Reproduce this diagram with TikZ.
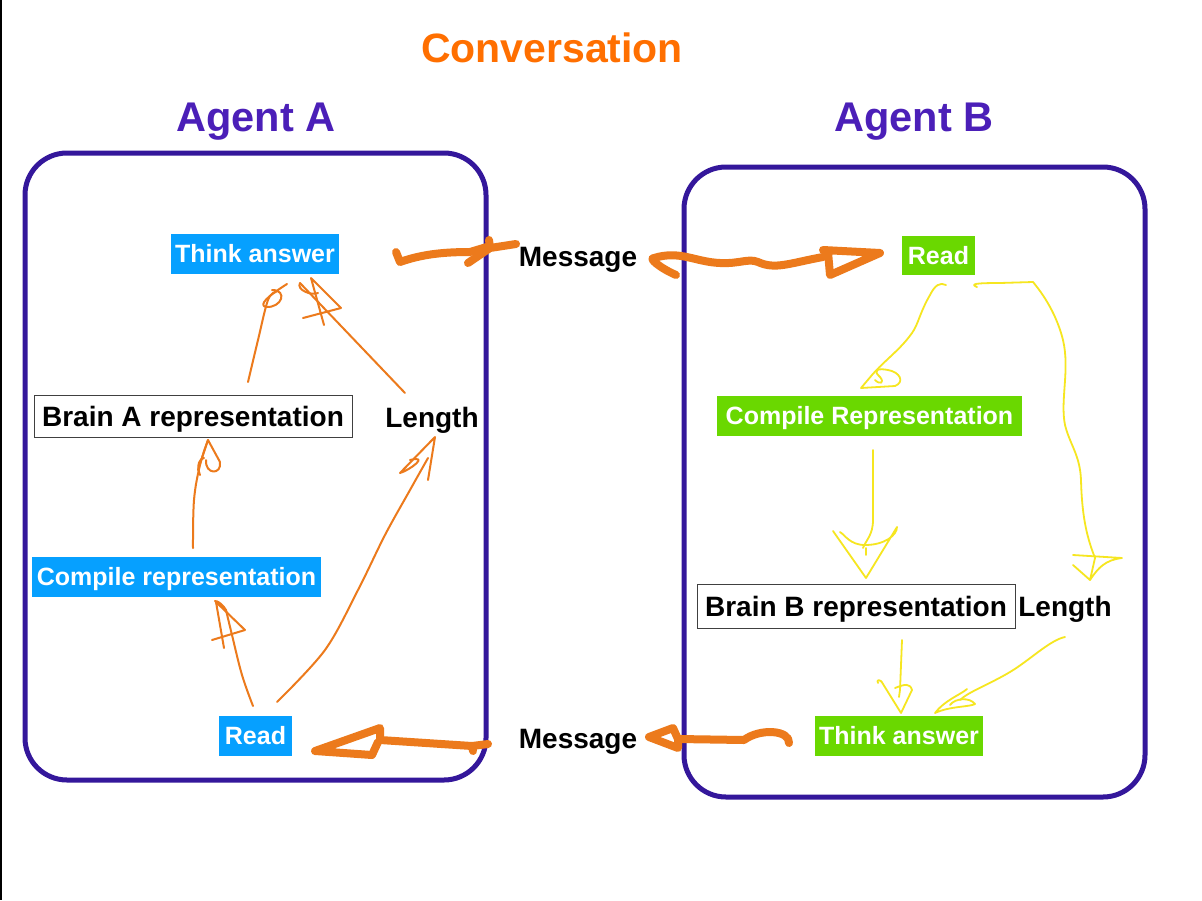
\documentclass[tikz,border=0pt]{standalone}
\usepackage{fontspec}
\setmainfont{Liberation Sans}
\begin{document}
\begin{tikzpicture}[x=1pt,y=-1pt,
  frame/.style={draw=boxpurple,line width=5pt,rounded corners=42pt},
  title/.style={font=\fontsize{41.5}{46}\selectfont\bfseries,text=titlepurple,text height=29.7pt,text depth=0pt,inner sep=0pt},
  wcap/.style={text height=17.9pt,text depth=0pt},
  bcap/.style={text height=20pt,text depth=0pt},
  bluebox/.style={wcap,fill=nodeblue,text=white,inner sep=0pt,font=\fontsize{25}{28}\selectfont\bfseries},
  greenbox/.style={wcap,fill=nodegreen,text=white,inner sep=0pt,font=\fontsize{25}{28}\selectfont\bfseries},
  brainbox/.style={bcap,draw=black!75,line width=1pt,fill=white,inner sep=0pt,font=\fontsize{28}{31}\selectfont\bfseries},
  plain/.style={bcap,inner sep=0pt,font=\fontsize{28}{31}\selectfont\bfseries},
  othin/.style={draw=arrorange,line width=2pt,line cap=round,line join=round},
  othick/.style={draw=arrorange,line width=8pt,line cap=round,line join=round},
  ythin/.style={draw=arryellow,line width=1.8pt,line cap=round,line join=round}]
\definecolor{boxpurple}{HTML}{34179B}
\definecolor{titlepurple}{HTML}{4B1FB8}
\definecolor{convorange}{HTML}{FF6F00}
\definecolor{nodeblue}{HTML}{06A0FF}
\definecolor{nodegreen}{HTML}{6AD800}
\definecolor{arrorange}{HTML}{EC7A1C}
\definecolor{arryellow}{HTML}{F6E620}
\useasboundingbox (0,0) rectangle (1202,900);
\fill[white] (0,0) rectangle (1202,900);
\fill[black] (0,0) rectangle (2,900);

% titles
\node[font=\fontsize{41}{46}\selectfont\bfseries,text=convorange,text height=29.4pt,text depth=0pt,inner sep=0pt] (conv) at (552,48) {Conversation};
\node[title] (titleA) at (256,117) {Agent A};
\node[title] (titleB) at (914,117) {Agent B};

% agent frames
\draw[frame] (25,153) rectangle (486,780);
\draw[frame] (684,167) rectangle (1145,797);

% agent A nodes
\node[bluebox,minimum width=168pt,minimum height=40pt] (thinkA) at (255,254) {Think answer};
\node[brainbox,minimum width=318pt,minimum height=42pt] (brainA) at (193,416) {Brain A representation};
\node[plain] (lengthA) at (432,417) {Length};
\node[bluebox,minimum width=289pt,minimum height=40pt] (compA) at (176.5,577) {Compile representation};
\node[bluebox,minimum width=73pt,minimum height=40pt] (readA) at (255.5,736) {Read};

% messages
\node[plain] (msgTop) at (578,256) {Message};
\node[plain] (msgBot) at (578,738) {Message};

% agent B nodes
\node[greenbox,minimum width=73pt,minimum height=39pt] (readB) at (938.5,255.5) {Read};
\node[greenbox,minimum width=305pt,minimum height=40pt] (compB) at (869.5,416) {Compile Representation};
\node[brainbox,minimum width=318pt,minimum height=44pt] (brainB) at (856,606) {Brain B representation};
\node[plain] (lengthB) at (1065,606) {Length};
\node[greenbox,minimum width=168pt,minimum height=40pt] (thinkB) at (899,736) {Think answer};

% ---------- Agent A orange arrows ----------
% Brain A -> Think A
\coordinate (a1s) at (248,382);
\coordinate (a1t) at (287,284);
\draw[othin] plot[smooth,tension=0.6] coordinates {(a1s) (258,340) (268,300) (276,292)};
\draw[othin] (a1t) .. controls (268,296) and (258,305) .. (266,307) .. controls (282,308) and (288,290) .. (272,290);
% Length A -> Think A
\coordinate (a2s) at (405,393);
\coordinate (a2t) at (300,283);
\draw[othin] (a2s) -- (a2t);
\draw[othin] (a2t) .. controls (296,290) and (312,296) .. (318,293);
\draw[othin] (303,318) -- (341,308) -- (311,278) (311,278) -- (324,325);
% Compile A -> Brain A
\coordinate (a3s) at (193,548);
\coordinate (a3t) at (208,440);
\draw[othin] plot[smooth,tension=0.6] coordinates {(a3s) (194,500) (200,465) (a3t)};
\draw[othin] (198,470) -- (a3t) -- (220,462) .. controls (222,475) and (205,475) .. (206,460);
\draw[othin] (200,475) .. controls (196,465) and (200,458) .. (204,458);
% Read A -> Compile A
\coordinate (a4s) at (253,706);
\coordinate (a4t) at (216,602);
\draw[othin] plot[smooth,tension=0.6] coordinates {(a4s) (242,675) (232,635) (226,610)};
\draw[othin] (226,610) .. controls (220,600) and (212,600) .. (a4t) -- (224,648) (212,640) -- (245,630) -- (a4t);
% Read A -> Length A
\coordinate (a5s) at (277,702);
\coordinate (a5t) at (435,437);
\draw[othin] plot[smooth,tension=0.55] coordinates {(a5s) (325,650) (358,590) (385,535) (410,490) (428,458)};
\draw[othin] (a5t) -- (400,473) .. controls (410,470) and (430,455) .. (410,460) (a5t) -- (428,480);

% ---------- Messages (thick orange) ----------
% Think A -> Message (top)
\coordinate (m1s) at (396,252);
\coordinate (m1t) at (516,244);
\draw[othick] (m1s) -- (400,262) .. controls (420,255) and (440,252) .. (470,252) -- (490,246);
\draw[othick] (m1t) -- (490,248) -- (468,263) (490,248) -- (489,240);
% Message (top) -> Read B
\coordinate (m2s) at (654,258);
\coordinate (m2t) at (880,253);
\draw[othick] (676,275) .. controls (660,268) and (648,258) .. (m2s) .. controls (680,250) and (695,262) .. (720,263) .. controls (740,264) and (748,258) .. (758,262) .. controls (775,270) and (790,263) .. (823,257);
\draw[othick] (823,250) -- (m2t) -- (830,275) -- (828,252);
% Message (bottom) -> Read A
\coordinate (m3s) at (488,744);
\coordinate (m3t) at (315,751);
\draw[othick] (m3s) -- (472,746) -- (473,751) (472,746) -- (380,740);
\draw[othick] (380,740) -- (380,728) -- (m3t) -- (372,755) -- (378,742);
% Think B -> Message (bottom)
\coordinate (m4s) at (789,743);
\coordinate (m4t) at (649,737);
\draw[othick] (m4s) .. controls (790,730) and (760,728) .. (744,740) -- (678,739);
\draw[othick] (678,739) -- (673,728) -- (m4t) -- (678,748) -- (678,739);

% ---------- Agent B yellow arrows ----------
% Read B -> Compile B
\coordinate (b1s) at (946,285);
\coordinate (b1t) at (861,388);
\draw[ythin] (946,285) .. controls (940,282) and (935,285) .. (930,295) .. controls (920,312) and (918,325) .. (912,333) .. controls (900,350) and (885,360) .. (872,375);
\draw[ythin] (872,375) -- (b1t) -- (895,386) .. controls (905,382) and (900,372) .. (888,370) .. controls (878,368) and (872,370) .. (880,377) .. controls (885,383) and (880,385) .. (875,380);
% Read B -> Length B
\coordinate (b2s) at (977,287);
\coordinate (b2t) at (1090,580);
\draw[ythin] (b2s) .. controls (970,284) and (975,283) .. (1000,283) -- (1033,282) .. controls (1048,300) and (1058,320) .. (1063,340) .. controls (1070,370) and (1060,400) .. (1065,425) .. controls (1070,445) and (1080,455) .. (1081,480) .. controls (1082,520) and (1088,540) .. (1095,558);
\draw[ythin] (1095,558) -- (b2t) -- (1073,565) (1073,555) -- (1122,558) .. controls (1105,560) and (1098,568) .. (b2t);
% Compile B -> Brain B
\coordinate (b3s) at (873,450);
\coordinate (b3t) at (866,578);
\draw[ythin] (b3s) -- (873,520) .. controls (873,535) and (866,540) .. (863,548);
\draw[ythin] (833,531) -- (b3t) -- (897,527) .. controls (897,535) and (885,545) .. (865,545) .. controls (850,545) and (845,535) .. (840,532) (866,548) -- (866,555);
% Brain B -> Think B
\coordinate (b4s) at (902,640);
\coordinate (b4t) at (901,713);
\draw[ythin] (b4s) -- (900,690);
\draw[ythin] (878,683) .. controls (876,680) and (880,678) .. (883,684) -- (b4t) -- (912,690) .. controls (910,683) and (905,684) .. (895,688) (900,690) -- (899,697);
% Length B -> Think B
\coordinate (b5s) at (1065,637);
\coordinate (b5t) at (935,713);
\draw[ythin] (b5s) .. controls (1050,640) and (1030,660) .. (1010,672) .. controls (990,684) and (968,692) .. (960,700);
\draw[ythin] (b5t) .. controls (945,700) and (960,695) .. (967,689) (b5t) .. controls (950,706) and (970,707) .. (975,704) .. controls (970,697) and (955,698) .. (950,705);
\end{tikzpicture}
\end{document}
